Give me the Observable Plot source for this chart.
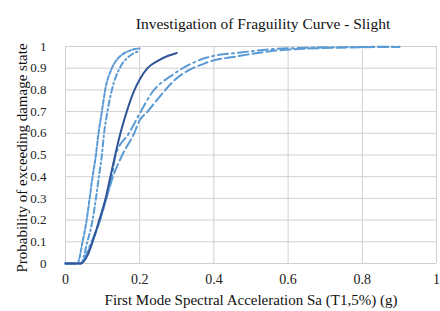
<!DOCTYPE html>
<html>
<head>
<meta charset="utf-8">
<script src="https://cdn.jsdelivr.net/npm/d3@7"></script>
<script src="https://cdn.jsdelivr.net/npm/@observablehq/plot@0.6"></script>
<style>
  html, body { margin: 0; padding: 0; background: #fff; }
  svg { display: block; }
  svg text { font-family: "Liberation Serif", "Times New Roman", serif !important; }
</style>
</head>
<body>
<div id="chart"></div>
<script>
const title = "Investigation of Fraguility Curve - Slight";
const xLabel = "First Mode Spectral Acceleration Sa (T1,5%) (g)";
const yLabel = "Probability of exceeding damage state";
const xTicks = [0, 0.2, 0.4, 0.6, 0.8, 1];
const yTicks = [0, 0.1, 0.2, 0.3, 0.4, 0.5, 0.6, 0.7, 0.8, 0.9, 1];

// Series A: solid dark
const aX = [0, 0.04, 0.06, 0.073, 0.091, 0.108, 0.121, 0.134, 0.148, 0.165, 0.186, 0.2, 0.221, 0.25, 0.275, 0.3];
const aY = [0, 0, 0.04, 0.1, 0.2, 0.3, 0.4, 0.5, 0.6, 0.7, 0.8, 0.848, 0.9, 0.935, 0.956, 0.97];
// Series B: short dash
const bX = [0, 0.032, 0.046, 0.057, 0.065, 0.073, 0.082, 0.089, 0.098, 0.107, 0.125, 0.144, 0.165, 0.18, 0.2];
const bY = [0, 0, 0.1, 0.2, 0.3, 0.4, 0.5, 0.6, 0.7, 0.8, 0.9, 0.95, 0.975, 0.985, 0.991];
// Series C: dash-dot
const cX = [0, 0.041, 0.059, 0.073, 0.082, 0.09, 0.098, 0.104, 0.113, 0.125, 0.146, 0.165, 0.185, 0.2];
const cY = [0, 0, 0.1, 0.2, 0.3, 0.4, 0.5, 0.6, 0.7, 0.8, 0.9, 0.945, 0.97, 0.979];
// Series D: long dash-dot
const dX = [0, 0.04, 0.07, 0.093, 0.11, 0.125, 0.135, 0.171, 0.203, 0.23, 0.292, 0.381, 0.471, 0.56, 0.65, 0.75, 0.9];
const dY = [0, 0, 0.1, 0.2, 0.3, 0.4, 0.5, 0.6, 0.7, 0.78, 0.873, 0.949, 0.972, 0.988, 0.994, 0.997, 0.999];
// Series E: long dash
const eX = [0, 0.04, 0.072, 0.093, 0.11, 0.128, 0.153, 0.185, 0.2, 0.221, 0.245, 0.292, 0.381, 0.471, 0.56, 0.65, 0.75, 0.9];
const eY = [0, 0, 0.1, 0.2, 0.3, 0.4, 0.5, 0.6, 0.66, 0.7, 0.75, 0.842, 0.926, 0.957, 0.98, 0.99, 0.995, 0.998];

const toRows = (xs, ys) => xs.map((x, i) => ({x, y: ys[i]}));
const A = toRows(aX, aY), B = toRows(bX, bY), C = toRows(cX, cY), D = toRows(dX, dY), E = toRows(eX, eY);

const light = "#5B9BD5";
const dark = "#2F5597";
const font = "Liberation Serif";

const chart = Plot.plot({
  width: 440,
  height: 311,
  marginLeft: 65,
  marginRight: 4,
  marginTop: 46,
  marginBottom: 48,
  style: {fontFamily: font, fontSize: "13px", color: "#222", background: "#fff"},
  x: {domain: [0, 1], ticks: xTicks, tickSize: 0, tickPadding: 11, tickFormat: d => String(d), label: null},
  y: {domain: [0, 1], ticks: yTicks, tickSize: 0, tickPadding: 19, tickFormat: d => String(d), label: null},
  marks: [
    Plot.ruleY(yTicks, {stroke: "#d0d0d0", strokeWidth: 1}),
    Plot.ruleX(xTicks, {stroke: "#d0d0d0", strokeWidth: 1}),
    Plot.line(E, {x: "x", y: "y", curve: "monotone-x", stroke: light, strokeWidth: 2, strokeDasharray: "10,4"}),
    Plot.line(D, {x: "x", y: "y", curve: "monotone-x", stroke: light, strokeWidth: 2, strokeDasharray: "10,4,2,4"}),
    Plot.line(C, {x: "x", y: "y", curve: "monotone-x", stroke: light, strokeWidth: 2, strokeDasharray: "6,3,1.5,3"}),
    Plot.line(B, {x: "x", y: "y", curve: "monotone-x", stroke: light, strokeWidth: 2, strokeDasharray: "4,2"}),
    Plot.line(A, {x: "x", y: "y", curve: "monotone-x", stroke: dark, strokeWidth: 2}),
    Plot.text([title], {frameAnchor: "top", textAnchor: "middle", dx: 12, dy: -29, fontSize: 15.5, fontFamily: font, fill: "#111"}),
    Plot.text([xLabel], {frameAnchor: "bottom", textAnchor: "middle", dy: 41, fontSize: 15, fontFamily: font, fill: "#111"}),
    Plot.text([yLabel], {frameAnchor: "left", textAnchor: "middle", dx: -43, dy: 3, rotate: -90, fontSize: 15, fontFamily: font, fill: "#111"}),
    Plot.axisX({ticks: xTicks, tickSize: 0, tickPadding: 11, tickFormat: d => String(d), label: null, fontFamily: font, fontSize: 14}),
    Plot.axisY({ticks: yTicks, tickSize: 0, tickPadding: 19, tickFormat: d => String(d), label: null, fontFamily: font, fontSize: 13})
  ]
});
document.getElementById("chart").appendChild(chart);
</script>
</body>
</html>
